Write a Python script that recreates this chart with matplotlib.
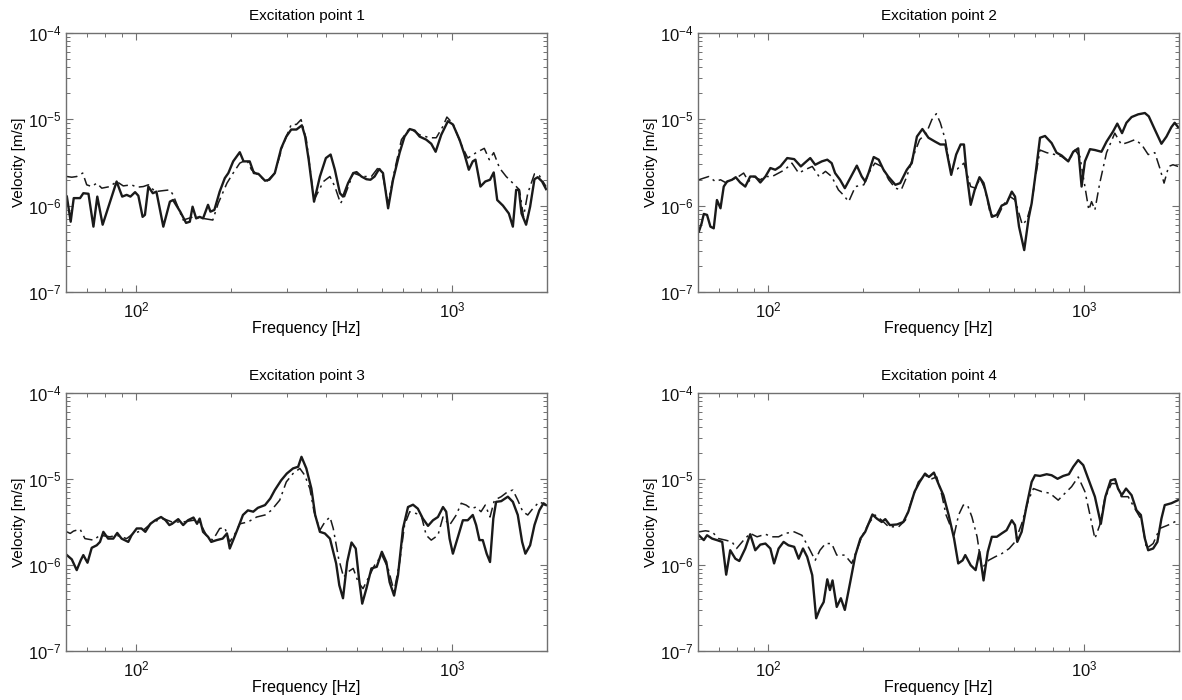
import numpy as np
import matplotlib
matplotlib.use("Agg")
import matplotlib.pyplot as plt
from matplotlib.ticker import LogLocator, NullFormatter

# ================================================
# Data (frequency in Hz, velocity in um/s)
# ================================================
p1_solid_f = [60.4, 62.1, 63.5, 66.5, 68.1, 70.7, 73.3, 75.4, 78.4, 86.8, 90.4, 93.4, 96, 99.3, 101.7, 104.9, 106.7, 109.4, 113, 116,
              122, 128, 131, 138, 144, 148, 151, 155, 159, 163, 169, 172, 177, 184, 191, 196, 203, 213, 219, 229,
              236, 244, 256, 264, 275, 288, 299, 310, 322, 335, 343, 352, 366, 382, 399, 413, 426, 442, 452, 469,
              487, 499, 517, 536, 552, 569, 588, 605, 628, 651, 683, 708, 735, 762, 790, 829, 860, 888, 925, 971,
              1007, 1057, 1096, 1131, 1164, 1187, 1231, 1275, 1320, 1356, 1391, 1450, 1514, 1559, 1597, 1629, 1661, 1717, 1768, 1825,
              1869, 1929, 1986]
p1_solid_v = [1.27, 0.65, 1.22, 1.22, 1.39, 1.37, 0.57, 1.27, 0.60, 1.90, 1.27, 1.33, 1.27, 1.43, 1.30, 0.74, 0.78, 1.66, 1.39, 1.45,
              0.57, 1.11, 1.16, 0.85, 0.63, 0.65, 0.97, 0.71, 0.74, 0.71, 1.02, 0.85, 0.89, 1.45, 2.08, 2.38, 3.25, 4.15, 3.25, 3.25,
              2.38, 2.33, 1.94, 1.99, 2.38, 4.6, 6.3, 7.6, 7.6, 8.5, 6.3, 3.4, 1.11, 2.17, 3.55, 3.9, 2.6, 1.39, 1.27, 1.82,
              2.38, 2.44, 2.17, 2.02, 1.99, 2.17, 2.65, 2.38, 0.93, 1.99, 4.1, 6.3, 7.7, 7.4, 6.3, 5.8, 5.2, 4.2, 6.6, 9.5,
              8.7, 5.8, 3.9, 2.6, 3.25, 3.4, 1.66, 1.90, 1.99, 2.42, 1.16, 1.0, 0.81, 0.57, 1.52, 1.52, 0.81, 0.60, 0.97, 2.02,
              2.13, 1.90, 1.55]
p1_dash_f = [60.4, 62.6, 64.9, 67.8, 69.8, 72.4, 75.1, 77.9, 82.7, 86.8, 91.1, 96.8, 100.5, 105.4, 109.4, 115, 122, 128, 131, 141,
             152, 163, 175, 182, 194, 203, 213, 224, 232, 247, 259, 275, 291, 310, 322, 333, 346, 366, 392, 411,
             426, 444, 457, 487, 523, 556, 588, 605, 628, 659, 692, 735, 790, 850, 892, 937, 964, 1007, 1070, 1122,
             1193, 1266, 1313, 1356, 1415, 1485, 1578, 1636, 1685, 1738, 1825, 1891, 1986]
p1_dash_v = [2.17, 2.13, 2.17, 2.38, 1.74, 1.66, 1.82, 1.59, 1.66, 1.90, 1.69, 1.74, 1.63, 1.66, 1.74, 1.45, 1.49, 1.52, 1.33, 0.68,
             0.74, 0.71, 0.68, 1.06, 1.82, 2.38, 3.1, 3.4, 2.6, 2.17, 1.90, 2.38, 4.9, 8.7, 8.7, 9.9, 5.8, 1.16, 1.90, 2.17,
             1.66, 1.06, 1.27, 2.38, 2.17, 2.17, 2.84, 2.17, 1.06, 2.6, 5.8, 7.9, 6.6, 6.1, 6.1, 8.3, 10.6, 8.9, 5.1, 3.55,
             4.1, 4.6, 3.4, 4.1, 2.72, 2.17, 1.74, 1.52, 0.74, 1.39, 2.33, 2.22, 1.66]

p2_solid_f = [60.4, 61.6, 62.6, 64.1, 65.7, 67.3, 68.9, 70.7, 72.4, 74.2, 76.9, 79.0, 81.6, 84.7, 87.8, 91.1, 94.5, 98.1, 101.7, 105.4,
              109.4, 115, 121, 127, 131, 136, 141, 148, 154, 159, 163, 169, 175, 182, 191, 198, 203, 208, 216, 224,
              232, 240, 253, 262, 275, 285, 296, 308, 322, 338, 351, 364, 380, 394, 407, 417, 425, 438, 451, 467,
              481, 493, 511, 530, 549, 569, 591, 605, 623, 647, 668, 683, 700, 726, 753, 790, 819, 850, 892, 925,
              959, 983, 1007, 1045, 1083, 1136, 1179, 1236, 1275, 1320, 1363, 1415, 1485, 1559, 1604, 1676, 1759, 1825, 1891, 1937,
              1986]
p2_solid_v = [0.50, 0.62, 0.80, 0.78, 0.57, 0.545, 1.16, 0.93, 1.66, 1.90, 1.99, 2.13, 1.85, 1.66, 2.17, 2.17, 1.85, 2.17, 2.72, 2.6,
              2.84, 3.55, 3.45, 2.84, 3.15, 3.55, 2.97, 3.25, 3.4, 3.1, 2.38, 1.99, 1.59, 2.08, 2.9, 2.17, 1.90, 2.38, 3.65, 3.4,
              2.6, 2.17, 1.74, 1.82, 2.6, 3.1, 6.3, 7.7, 6.1, 5.5, 5.1, 5.1, 2.27, 3.9, 5.1, 5.1, 2.38, 1.02, 1.52, 2.13,
              1.82, 1.27, 0.74, 0.78, 1.0, 1.06, 1.45, 1.27, 0.57, 0.305, 0.71, 1.06, 2.08, 6.1, 6.4, 5.3, 4.1, 3.8, 3.25, 4.2,
              4.6, 1.66, 3.25, 4.5, 4.4, 4.2, 5.5, 7.2, 8.9, 6.9, 9.1, 10.6, 11.4, 11.8, 10.8, 7.6, 5.2, 6.3, 8.1, 9.1,
              8.1]
p2_dash_f = [60.4, 62.6, 64.9, 68.1, 70.7, 73.3, 76.9, 80.7, 83.7, 86.8, 90.0, 94.5, 98.1, 103, 108, 113, 119, 125, 131, 138,
             145, 152, 159, 167, 173, 180, 189, 201, 211, 218, 229, 241, 253, 264, 275, 288, 302, 317, 330, 341,
             351, 364, 378, 397, 417, 438, 454, 469, 487, 505, 530, 556, 584, 605, 638, 659, 683, 700, 726, 762,
             809, 850, 892, 937, 971, 1007, 1036, 1057, 1083, 1122, 1179, 1252, 1313, 1380, 1450, 1522, 1597, 1676, 1738, 1793,
             1854, 1914, 1986]
p2_dash_v = [1.99, 2.08, 2.17, 1.90, 1.99, 1.85, 1.99, 2.17, 2.38, 1.90, 2.17, 1.99, 2.17, 2.17, 2.38, 2.6, 3.1, 2.38, 2.6, 2.84,
             2.17, 2.49, 2.17, 1.52, 1.33, 1.11, 1.66, 1.74, 2.6, 3.1, 2.84, 1.99, 1.59, 1.52, 2.17, 3.7, 5.8, 6.9, 9.9, 11.6,
             9.1, 5.8, 2.6, 2.65, 3.1, 1.66, 1.59, 2.08, 1.52, 0.81, 0.71, 1.02, 1.27, 1.16, 0.60, 0.68, 1.06, 1.99, 4.4, 4.1,
             3.9, 3.7, 3.25, 4.4, 3.7, 1.66, 0.89, 1.11, 0.89, 1.82, 4.1, 6.9, 5.1, 5.4, 5.8, 5.1, 3.9, 4.1, 2.72, 1.82,
             2.84, 2.97, 2.84]

p3_solid_f = [60.4, 62.6, 64.9, 66.8, 68.1, 70.2, 72.4, 75.1, 76.9, 78.8, 81.6, 84.7, 87.2, 90.0, 94.5, 96.8, 100.5, 104, 107, 111,
              115, 120, 124, 127.5, 130, 136, 141, 146, 152, 156, 159, 163, 169, 173, 180, 188, 194, 198, 203, 211,
              218, 226, 235, 243, 256, 266, 275, 288, 300, 314, 326, 334, 346, 359, 369, 382, 396, 411, 430, 440,
              452, 466, 481, 496, 508, 520, 536, 556, 578, 600, 620, 635, 656, 675, 700, 726, 753, 780, 809, 840,
              871, 903, 937, 959, 983, 1007, 1045, 1083, 1122, 1164, 1193, 1222, 1252, 1288, 1320, 1352, 1380, 1432, 1503, 1559,
              1616, 1668, 1708, 1768, 1825, 1891, 1949, 1986]
p3_solid_v = [1.30, 1.16, 0.87, 1.13, 1.30, 1.06, 1.58, 1.69, 1.85, 2.42, 2.02, 2.02, 2.35, 2.02, 1.85, 2.21, 2.65, 2.65, 2.42, 3.0,
              3.3, 3.6, 3.3, 2.9, 3.0, 3.4, 2.9, 3.3, 3.55, 3.0, 3.45, 2.42, 2.12, 1.85, 1.94, 2.02, 2.32, 1.55, 1.94, 2.77,
              3.8, 4.3, 4.15, 4.6, 4.95, 5.9, 7.4, 9.6, 11.5, 13.2, 13.8, 18.0, 13.2, 7.7, 3.8, 2.42, 2.32, 2.02, 1.04, 0.58,
              0.41, 1.08, 1.82, 1.55, 0.69, 0.355, 0.53, 0.91, 0.95, 1.42, 1.08, 0.63, 0.44, 0.76, 2.65, 4.7, 5.0, 4.5, 3.45, 2.84,
              3.3, 3.6, 4.7, 4.15, 2.02, 1.35, 2.12, 3.3, 3.3, 3.8, 2.9, 1.94, 1.94, 1.35, 1.08, 3.45, 5.4, 5.5, 6.2, 5.4,
              3.8, 1.85, 1.35, 1.69, 2.9, 4.3, 5.2, 4.95]
p3_dash_f = [60.4, 61.9, 63.4, 66.5, 68.9, 73.3, 76.9, 82.7, 86.8, 93.4, 98.1, 105.4, 113, 122, 130, 141, 152, 159, 167, 175,
             184, 191, 198, 206, 213, 226, 241, 256, 268, 285, 299, 314, 330, 342, 355, 366, 382, 396, 411, 421,
             438, 454, 469, 487, 505, 523, 542, 569, 600, 628, 656, 683, 708, 735, 771, 799, 829, 860, 903, 937,
             983, 1032, 1070, 1109, 1150, 1193, 1236, 1275, 1320, 1363, 1432, 1503, 1559, 1616, 1676, 1738, 1802, 1891, 1986]
p3_dash_v = [2.42, 2.32, 2.47, 2.6, 2.02, 1.94, 2.21, 2.12, 2.21, 2.02, 2.32, 2.53, 3.15, 3.45, 3.15, 3.15, 3.3, 3.15, 2.21, 1.94,
             2.65, 2.7, 1.85, 2.32, 3.0, 3.15, 3.6, 3.8, 4.3, 5.65, 9.2, 11.5, 13.2, 11.0, 7.7, 4.15, 2.53, 3.15, 3.6, 2.65,
             1.18, 0.72, 0.83, 0.91, 0.63, 0.53, 0.69, 0.99, 1.30, 0.91, 0.49, 1.08, 2.9, 4.15, 3.95, 3.8, 2.21, 1.94, 2.21, 3.6,
             2.9, 3.8, 5.2, 4.95, 4.5, 4.7, 4.15, 4.95, 3.6, 5.65, 6.2, 7.1, 7.4, 5.65, 4.15, 3.8, 4.5, 5.4, 4.95]

p4_solid_f = [60.4, 62.6, 64.1, 66.5, 68.9, 71.6, 73.7, 75.9, 78.8, 81.1, 84.7, 87.8, 91.1, 94.5, 98.1, 101.7, 104.5, 108, 112, 116,
              121, 125, 129, 133, 138, 142, 146, 150, 154, 157, 160, 165, 170, 175, 182, 189, 196, 203, 208, 214,
              221, 229, 235, 243, 256, 268, 278, 291, 302, 314, 323, 335, 346, 359, 373, 388, 400, 413, 421, 438,
              454, 467, 481, 496, 511, 530, 549, 569, 591, 605, 615, 635, 659, 683, 700, 726, 762, 790, 825, 860,
              896, 925, 959, 995, 1032, 1083, 1131, 1169, 1215, 1255, 1282, 1317, 1359, 1415, 1467, 1514, 1559, 1597, 1656, 1708,
              1759, 1802, 1891, 1986]
p4_solid_v = [2.21, 1.94, 2.21, 2.02, 1.94, 1.85, 0.77, 1.48, 1.18, 1.11, 1.55, 2.27, 1.48, 1.72, 1.77, 1.55, 1.04, 1.55, 1.85, 1.69,
              1.62, 1.18, 1.55, 1.24, 0.76, 0.24, 0.31, 0.37, 0.68, 0.51, 0.66, 0.325, 0.41, 0.30, 0.63, 1.30, 2.02, 2.42, 3.0, 3.85,
              3.45, 3.15, 3.4, 2.9, 2.95, 3.15, 4.15, 7.1, 9.2, 11.5, 10.5, 11.8, 8.8, 6.45, 3.8, 2.02, 1.04, 1.13, 1.30, 0.99,
              0.87, 1.42, 0.66, 1.42, 2.12, 2.12, 2.32, 2.53, 3.3, 2.9, 1.85, 2.42, 4.95, 9.2, 11.0, 10.8, 11.3, 11.0, 10.0, 10.8,
              11.3, 13.8, 16.5, 14.4, 10.0, 6.2, 3.0, 6.2, 9.6, 9.9, 7.7, 6.45, 7.7, 6.45, 4.3, 3.8, 2.02, 1.48, 1.55, 1.85,
              3.45, 4.95, 5.2, 5.65]
p4_dash_f = [60.4, 63.4, 66.5, 69.8, 73.3, 76.9, 79.5, 83.7, 87.8, 92.3, 98.1, 103, 108, 113, 121, 128, 135, 141, 146, 152,
             159, 165, 175, 184, 191, 198, 208, 218, 229, 241, 259, 272, 285, 299, 314, 330, 342, 355, 366, 388,
             401, 415, 428, 442, 459, 475, 499, 523, 549, 580, 605, 635, 667, 692, 735, 780, 829, 871, 914, 959,
             1007, 1045, 1083, 1122, 1164, 1222, 1266, 1313, 1380, 1450, 1522, 1578, 1656, 1738, 1846, 1986]
p4_dash_v = [2.42, 2.49, 2.42, 2.02, 1.94, 1.85, 1.55, 1.94, 2.32, 2.12, 2.27, 2.12, 2.12, 2.32, 2.42, 2.21, 1.55, 1.13, 1.48, 1.77,
             1.77, 1.30, 1.30, 1.04, 1.48, 2.12, 3.0, 3.8, 3.3, 2.77, 2.77, 3.3, 5.65, 9.2, 11.0, 10.0, 10.5, 6.45, 3.8, 2.21,
             3.8, 4.95, 4.95, 3.6, 2.12, 0.91, 1.13, 1.24, 1.35, 1.55, 1.85, 3.0, 5.65, 7.7, 7.1, 6.8, 5.65, 6.8, 8.1, 10.5,
             7.1, 3.8, 2.02, 2.9, 5.9, 8.8, 8.8, 6.2, 6.2, 4.5, 3.3, 1.55, 1.77, 2.65, 2.9, 3.3]

titles = ['Excitation point 1', 'Excitation point 2', 'Excitation point 3', 'Excitation point 4']
solid = [(p1_solid_f, p1_solid_v), (p2_solid_f, p2_solid_v), (p3_solid_f, p3_solid_v), (p4_solid_f, p4_solid_v)]
dash = [(p1_dash_f, p1_dash_v), (p2_dash_f, p2_dash_v), (p3_dash_f, p3_dash_v), (p4_dash_f, p4_dash_v)]

# ================================================
# Style
# ================================================
plt.rcParams['font.family'] = ['Liberation Sans', 'DejaVu Sans']
plt.rcParams['mathtext.fontset'] = 'custom'
plt.rcParams['mathtext.rm'] = 'Liberation Sans'
plt.rcParams['mathtext.it'] = 'Liberation Sans'
plt.rcParams['mathtext.default'] = 'regular'

fig = plt.figure(figsize=(11.82, 7.0), dpi=100)

# axes positions [left, bottom, width, height] in figure fraction
positions = [
    [0.0558, 0.583, 0.407, 0.370],
    [0.5905, 0.583, 0.407, 0.370],
    [0.0558, 0.070, 0.407, 0.369],
    [0.5905, 0.070, 0.407, 0.369],
]

for i in range(4):
    ax = fig.add_axes(positions[i])
    f_s, v_s = solid[i]
    f_d, v_d = dash[i]
    ax.plot(f_s, np.array(v_s) * 1e-6, color='#1a1a1a', linewidth=1.7, linestyle='-')
    ax.plot(f_d, np.array(v_d) * 1e-6, color='#1a1a1a', linewidth=1.1, linestyle=(0, (7, 3, 1.5, 3)))

    ax.set_xscale('log')
    ax.set_yscale('log')
    ax.set_xlim(60, 2000)
    ax.set_ylim(1e-7, 1e-4)

    ax.xaxis.set_major_locator(LogLocator(base=10, numticks=10))
    ax.xaxis.set_minor_locator(LogLocator(base=10, subs=np.arange(2, 10), numticks=20))
    ax.xaxis.set_minor_formatter(NullFormatter())
    ax.yaxis.set_major_locator(LogLocator(base=10, numticks=10))
    ax.yaxis.set_minor_locator(LogLocator(base=10, subs=np.arange(2, 10), numticks=20))
    ax.yaxis.set_minor_formatter(NullFormatter())

    ax.tick_params(which='both', direction='in', top=True, right=True, colors='#707070',
                   labelcolor='#111111', labelsize=12)
    ax.tick_params(which='major', length=5, width=0.8)
    ax.tick_params(which='minor', length=3, width=0.7)
    ax.tick_params(axis='x', which='major', pad=6)
    for sp in ax.spines.values():
        sp.set_color('#707070')
        sp.set_linewidth(1.0)

    ax.set_title(titles[i], fontsize=11, pad=9)
    ax.set_xlabel('Frequency [Hz]', fontsize=11.5, labelpad=0.5)
    ax.set_ylabel('Velocity [m/s]', fontsize=11, labelpad=1)

plt.savefig('out.png', dpi=100)
print("Saved: out.png")
